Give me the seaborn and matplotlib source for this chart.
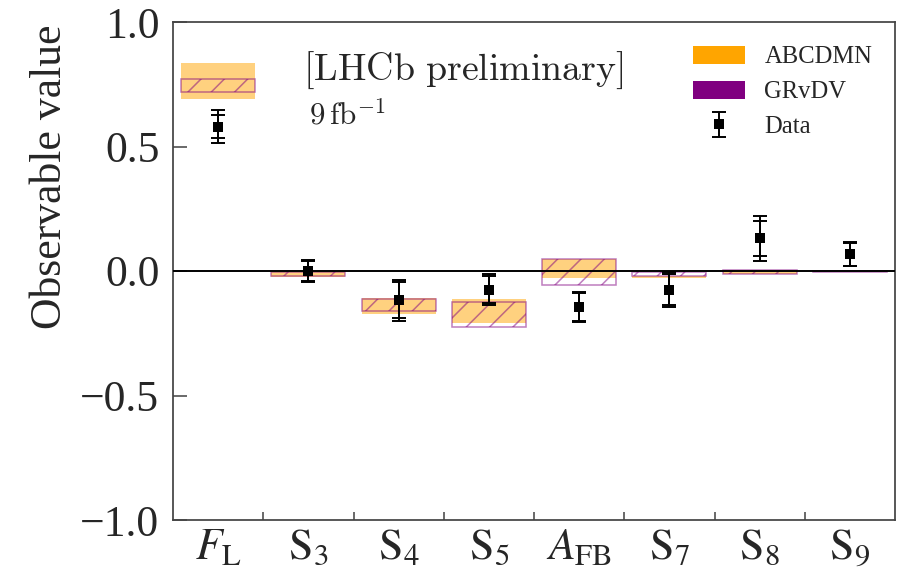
import numpy as np
import pandas as pd
import matplotlib
matplotlib.use("Agg")
import matplotlib.pyplot as plt
import seaborn as sns
from matplotlib.patches import Patch

# ---------------- data ----------------
observables = [r"$F_{\mathrm{L}}$", r"$\mathrm{S}_3$", r"$\mathrm{S}_4$", r"$\mathrm{S}_5$",
               r"$A_{\mathrm{FB}}$", r"$\mathrm{S}_7$", r"$\mathrm{S}_8$", r"$\mathrm{S}_9$"]
data_value = [0.58, 0.0, -0.118, -0.075, -0.145, -0.075, 0.131, 0.068]
stat_err = [0.045, 0.040, 0.072, 0.055, 0.055, 0.062, 0.070, 0.046]
total_err = [0.066, 0.045, 0.082, 0.062, 0.060, 0.069, 0.090, 0.048]

abcdmn_low = [0.691, -0.025, -0.173, -0.210, -0.027, -0.030, -0.012, -0.003]
abcdmn_high = [0.834, -0.002, -0.107, -0.111, 0.047, -0.019, 0.004, 0.001]
grvdv_low = [0.717, -0.019, -0.159, -0.226, -0.055, -0.020, -0.011, -0.004]
grvdv_high = [0.773, -0.005, -0.112, -0.123, 0.047, -0.003, 0.003, 0.000]

ytick_values = [-1.0, -0.5, 0.0, 0.5, 1.0]
ytick_labels = ["\u22121.0", "\u22120.5", "0.0", "0.5", "1.0"]
legend_labels = ["ABCDMN", "GRvDV", "Data"]

# ---------------- style ----------------
sns.set_theme(style="ticks")
plt.rcParams["font.family"] = ["Liberation Serif", "DejaVu Serif"]
plt.rcParams["mathtext.fontset"] = "stix"
plt.rcParams["hatch.linewidth"] = 0.8

DPI = 140
fig, ax = plt.subplots(figsize=(903 / DPI, 569 / DPI), dpi=DPI)
fig.subplots_adjust(left=173 / 903, right=895 / 903, bottom=1 - 520 / 569, top=1 - 22 / 569)

x = np.arange(len(observables))
width = 0.82

ab_low = np.array(abcdmn_low)
ab_high = np.array(abcdmn_high)
gr_low = np.array(grvdv_low)
gr_high = np.array(grvdv_high)

ax.bar(x, ab_high - ab_low, bottom=ab_low, width=width, color="orange",
       alpha=0.5, linewidth=0, zorder=2)
ax.bar(x, gr_high - gr_low, bottom=gr_low, width=width, fill=False,
       edgecolor="purple", hatch="//", alpha=0.5, linewidth=0.8, zorder=3)

ax.axhline(0, color="black", lw=1.0, zorder=4)

eb_tot = ax.errorbar(x, data_value, yerr=total_err, fmt="none", ecolor="black",
                     elinewidth=1.0, capsize=3.8, capthick=1.0, zorder=5)
eb_stat = ax.errorbar(x, data_value, yerr=stat_err, fmt="none", ecolor="black",
                      elinewidth=1.0, capsize=3.8, capthick=1.0, zorder=5)

df = pd.DataFrame({"x": x, "value": data_value})
sns.scatterplot(data=df, x="x", y="value", marker="s", color="black", s=30,
                linewidth=0, zorder=6, ax=ax, legend=False)
sc = ax.collections[-1]

# ---------------- axes ----------------
ax.set_xlim(-0.5, len(observables) - 0.5)
ax.set_ylim(-1, 1)
ax.set_xticks(x)
ax.set_xticklabels(observables)
ax.set_xticks(x[:-1] + 0.5, minor=True)
ax.tick_params(axis="x", which="major", length=0, pad=4, labelsize=22.5)
ax.tick_params(axis="x", which="minor", direction="in", length=4, width=0.8, color="#444444")
ax.set_yticks(ytick_values)
ax.set_yticklabels(ytick_labels)
ax.tick_params(axis="y", which="major", direction="in", length=7.2, width=0.8,
               color="#444444", labelsize=22.5, pad=7)
ax.set_xlabel("")
ax.set_ylabel("Observable value", fontsize=22.5)
ax.yaxis.set_label_coords(-0.143, 0.69)
for sp in ax.spines.values():
    sp.set_color("#444444")
    sp.set_linewidth(0.9)

ax.text(0.94, 0.767, r"$\mathrm{[LHCb\ preliminary]}$", math_fontfamily="cm",
        fontsize=19.5, va="baseline", ha="left")
ax.text(1.007, 0.586, r"$9\,\mathrm{fb}^{-1}$", math_fontfamily="cm",
        fontsize=16, va="baseline", ha="left")

h_ab = Patch(facecolor="orange", edgecolor="none")
h_gr = Patch(facecolor="purple", edgecolor="none")
ax.legend([h_ab, h_gr, (eb_stat, sc)], legend_labels, loc="upper left",
          bbox_to_anchor=(0.72, 0.952), frameon=False, fontsize=12.7,
          borderaxespad=0, borderpad=0, handlelength=2.1, handleheight=0.73,
          handletextpad=0.8, labelspacing=0.5, scatteryoffsets=[0.5])

fig.savefig("out.png", dpi=DPI)
